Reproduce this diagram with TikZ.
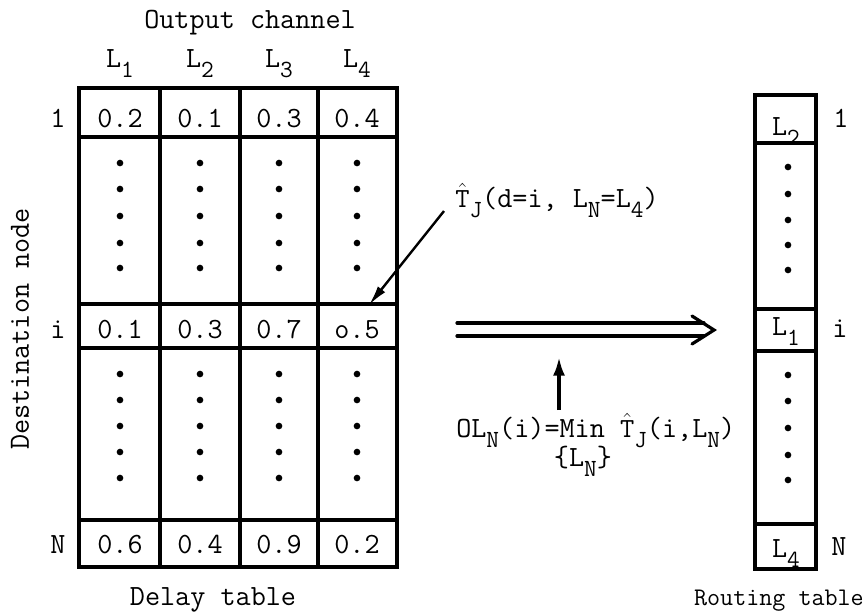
\documentclass[tikz,border=0pt]{standalone}
\usetikzlibrary{arrows.meta}
% lowered, slightly smaller typewriter subscript
\newcommand{\sbs}[1]{\raisebox{-7.5pt}{\fontsize{18.5}{18.5}\selectfont #1}}
% typewriter T with a circumflex over it
\newcommand{\That}{$\hat{\mathtt{T}}$}
\begin{document}
\begin{tikzpicture}[x=0.75pt,y=-0.75pt,
  txt/.style={font=\ttfamily\fontsize{22}{24}\selectfont, inner sep=0pt, anchor=base},
  small txt/.style={font=\ttfamily\fontsize{19}{22}\selectfont, inner sep=0pt, anchor=base},
  rule/.style={line width=2.4pt, line cap=rect},
  dot/.style={circle, fill=black, inner sep=0pt, minimum size=5pt},
  pointer/.style={line width=1.8pt, -{Latex[length=15pt,width=7pt]}},
  thick arrow/.style={line width=2.6pt, -{Latex[length=14pt,width=9pt]}},
  twin/.style={line width=2.4pt, line cap=round, line join=miter}]
\useasboundingbox (0,0) rectangle (866,615);

% ---------- delay table ----------
\draw[rule] (79,88) rectangle (397,567);
\foreach \yy in {137,304,348,520} \draw[rule] (79,\yy) -- (397,\yy);
\foreach \xx in {160,240,318} \draw[rule] (\xx,88) -- (\xx,567);

\node[txt] (outch) at (250,28) {Output channel};
\foreach \c/\xx in {1/120,2/200,3/279,4/357}
  \node[txt] (hd\c) at (\xx,67) {L\sbs{\c}};

\node[txt, rotate=90, anchor=center] (dest) at (20,329) {Destination node};
\node[txt] (r1) at (58,127) {1};
\node[txt] (ri) at (58,338) {i};
\node[txt] (rN) at (58,553) {N};

\foreach \c/\xx/\va/\vb/\vc in {1/120/0.2/0.1/0.6, 2/200/0.1/0.3/0.4,
                               3/279/0.3/0.7/0.9, 4/357/0.4/o.5/0.2} {
  \node[txt] (a\c) at (\xx,127) {\va};
  \node[txt] (b\c) at (\xx,338) {\vb};
  \node[txt] (c\c) at (\xx,553) {\vc};
  \foreach \k/\yy in {1/163,2/189,3/216,4/243,5/268}
    \node[dot] (up\c\k) at (\xx,\yy) {};
  \foreach \k/\yy in {1/374,2/400,3/426,4/452,5/478}
    \node[dot] (dn\c\k) at (\xx,\yy) {};
}
\node[txt] (dlab) at (213,605) {Delay table};

% ---------- routing table ----------
\draw[rule] (755,95) rectangle (816,569);
\foreach \yy in {143,309,351,524} \draw[rule] (755,\yy) -- (816,\yy);
\node[txt] (rt1) at (786,135) {L\sbs{2}};
\node[txt] (rti) at (786,335) {L\sbs{1}};
\node[txt] (rtN) at (786,557) {L\sbs{4}};
\node[txt] (q1) at (841,127) {1};
\node[txt] (qi) at (840,337) {i};
\node[txt] (qN) at (839,555) {N};
\foreach \k/\yy in {1/167,2/194,3/220,4/245,5/270}
  \node[dot] (ru\k) at (788,\yy) {};
\foreach \k/\yy in {1/375,2/401,3/428,4/455,5/480}
  \node[dot] (rd\k) at (788,\yy) {};
\node[small txt, anchor=base east] (rlab) at (864,605) {Routing table};

% ---------- annotation of one entry ----------
\node[txt, anchor=base west] (est) at (455,207) {\That\sbs{J}(d=i, L\sbs{N}=L\sbs{4})};
\coordinate (estTail) at (444,211);
\coordinate (cellTip) at (369,305);
\draw[pointer] (estTail) -- (cellTip);

% ---------- transfer arrow ----------
\coordinate (fromTab) at (457,323);
\coordinate (fromTabB) at (457,336);
\coordinate (toTab) at (714,330);
\draw[twin] (fromTab) -- (704,323);
\draw[twin] (fromTabB) -- (704,336);
\draw[twin] (692,316) -- (toTab) -- (692,344);

% ---------- minimum rule ----------
\node[txt, anchor=base west] (minrule) at (456,437)
  {OL\sbs{N}(i)=Min \That\sbs{J}(i,L\sbs{N})};
\node[txt] (minsub) at (583,466) {\{L\sbs{N}\}};
\coordinate (ruleTop) at (559,410);
\coordinate (arrowTip) at (559,357);
\draw[thick arrow] (ruleTop) -- (arrowTip);
\end{tikzpicture}
\end{document}
